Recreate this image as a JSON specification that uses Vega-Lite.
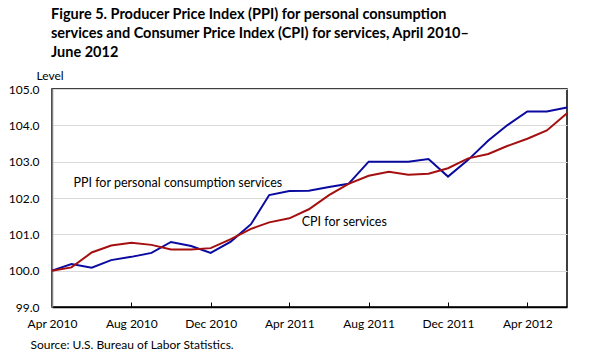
{
  "$schema": "https://vega.github.io/schema/vega-lite/v6.json",
  "width": 515,
  "height": 218,
  "autosize": {"type": "none"},
  "padding": {"left": 52, "top": 89, "right": 39, "bottom": 57},
  "background": "white",
  "config": {
    "view": {"stroke": "black", "strokeWidth": 1.5},
    "font": "Lato"
  },
  "title": {
    "text": ["Figure 5. Producer Price Index (PPI) for personal consumption", "services and Consumer Price Index (CPI) for services, April 2010–", "June 2012"],
    "anchor": "start",
    "frame": "group",
    "font": "Lato",
    "fontSize": 14.5,
    "fontWeight": "bold",
    "color": "black",
    "lineHeight": 19,
    "offset": 9,
    "dx": -1
  },
  "datasets": {
    "series": [
      {"date": "2010-04-01", "series": "PPI", "value": 100.0},
      {"date": "2010-05-01", "series": "PPI", "value": 100.18},
      {"date": "2010-06-01", "series": "PPI", "value": 100.08},
      {"date": "2010-07-01", "series": "PPI", "value": 100.29},
      {"date": "2010-08-01", "series": "PPI", "value": 100.38},
      {"date": "2010-09-01", "series": "PPI", "value": 100.49},
      {"date": "2010-10-01", "series": "PPI", "value": 100.79},
      {"date": "2010-11-01", "series": "PPI", "value": 100.68},
      {"date": "2010-12-01", "series": "PPI", "value": 100.49},
      {"date": "2011-01-01", "series": "PPI", "value": 100.8},
      {"date": "2011-02-01", "series": "PPI", "value": 101.28},
      {"date": "2011-03-01", "series": "PPI", "value": 102.08},
      {"date": "2011-04-01", "series": "PPI", "value": 102.19},
      {"date": "2011-05-01", "series": "PPI", "value": 102.2},
      {"date": "2011-06-01", "series": "PPI", "value": 102.3},
      {"date": "2011-07-01", "series": "PPI", "value": 102.39},
      {"date": "2011-08-01", "series": "PPI", "value": 103.0},
      {"date": "2011-09-01", "series": "PPI", "value": 103.0},
      {"date": "2011-10-01", "series": "PPI", "value": 103.0},
      {"date": "2011-11-01", "series": "PPI", "value": 103.07},
      {"date": "2011-12-01", "series": "PPI", "value": 102.59},
      {"date": "2012-01-01", "series": "PPI", "value": 103.05},
      {"date": "2012-02-01", "series": "PPI", "value": 103.58},
      {"date": "2012-03-01", "series": "PPI", "value": 104.0},
      {"date": "2012-04-01", "series": "PPI", "value": 104.38},
      {"date": "2012-05-01", "series": "PPI", "value": 104.38},
      {"date": "2012-06-01", "series": "PPI", "value": 104.49},
      {"date": "2010-04-01", "series": "CPI", "value": 100.0},
      {"date": "2010-05-01", "series": "CPI", "value": 100.09},
      {"date": "2010-06-01", "series": "CPI", "value": 100.5},
      {"date": "2010-07-01", "series": "CPI", "value": 100.69},
      {"date": "2010-08-01", "series": "CPI", "value": 100.77},
      {"date": "2010-09-01", "series": "CPI", "value": 100.71},
      {"date": "2010-10-01", "series": "CPI", "value": 100.58},
      {"date": "2010-11-01", "series": "CPI", "value": 100.58},
      {"date": "2010-12-01", "series": "CPI", "value": 100.62},
      {"date": "2011-01-01", "series": "CPI", "value": 100.87},
      {"date": "2011-02-01", "series": "CPI", "value": 101.15},
      {"date": "2011-03-01", "series": "CPI", "value": 101.33},
      {"date": "2011-04-01", "series": "CPI", "value": 101.44},
      {"date": "2011-05-01", "series": "CPI", "value": 101.69},
      {"date": "2011-06-01", "series": "CPI", "value": 102.08},
      {"date": "2011-07-01", "series": "CPI", "value": 102.39},
      {"date": "2011-08-01", "series": "CPI", "value": 102.61},
      {"date": "2011-09-01", "series": "CPI", "value": 102.72},
      {"date": "2011-10-01", "series": "CPI", "value": 102.64},
      {"date": "2011-11-01", "series": "CPI", "value": 102.67},
      {"date": "2011-12-01", "series": "CPI", "value": 102.82},
      {"date": "2012-01-01", "series": "CPI", "value": 103.09},
      {"date": "2012-02-01", "series": "CPI", "value": 103.21},
      {"date": "2012-03-01", "series": "CPI", "value": 103.43},
      {"date": "2012-04-01", "series": "CPI", "value": 103.63},
      {"date": "2012-05-01", "series": "CPI", "value": 103.86},
      {"date": "2012-06-01", "series": "CPI", "value": 104.33}
    ],
    "labels": [
      {"date": "2010-05-04", "value": 102.41, "label": "PPI for personal consumption services"},
      {"date": "2011-04-20", "value": 101.34, "label": "CPI for services"}
    ]
  },
  "layer": [
    {
      "data": {"name": "series"},
      "mark": {"type": "line", "strokeWidth": 2},
      "encoding": {
        "x": {
          "field": "date",
          "type": "temporal",
          "scale": {"type": "utc", "domain": [{"year": 2010, "month": 4, "date": 1, "utc": true}, {"year": 2012, "month": 6, "date": 1, "utc": true}]},
          "axis": {
            "values": [
              {"year": 2010, "month": 4, "date": 1, "utc": true},
              {"year": 2010, "month": 8, "date": 1, "utc": true},
              {"year": 2010, "month": 12, "date": 1, "utc": true},
              {"year": 2011, "month": 4, "date": 1, "utc": true},
              {"year": 2011, "month": 8, "date": 1, "utc": true},
              {"year": 2011, "month": 12, "date": 1, "utc": true},
              {"year": 2012, "month": 4, "date": 1, "utc": true}
            ],
            "tickCount": 20,
            "format": "%b %Y",
            "grid": false,
            "domainColor": "black",
            "domainWidth": 1.5,
            "tickColor": "black",
            "tickSize": -5,
            "tickWidth": 1,
            "labelPadding": 16,
            "labelFont": "Lato",
            "labelFontSize": 12,
            "labelColor": "black",
            "labelFlush": false,
            "labelOverlap": false,
            "title": "Source: U.S. Bureau of Labor Statistics.",
            "titleFont": "Lato",
            "titleFontSize": 12,
            "titleFontWeight": "normal",
            "titleColor": "black",
            "titleAnchor": "start",
            "titleAlign": "left",
            "titleBaseline": "alphabetic",
            "titleX": -22,
            "titleY": 41
          }
        },
        "y": {
          "field": "value",
          "type": "quantitative",
          "scale": {"domain": [99, 105], "nice": false, "zero": false},
          "axis": {
            "values": [99, 100, 101, 102, 103, 104, 105],
            "tickCount": 10,
            "format": ".1f",
            "grid": true,
            "gridColor": "#d9d9d9",
            "gridWidth": 1,
            "ticks": false,
            "domainColor": "#808080",
            "domainWidth": 1.5,
            "labelPadding": 13,
            "labelFont": "Lato",
            "labelFontSize": 12,
            "labelColor": "black",
            "labelBaseline": "middle",
            "labelOverlap": false,
            "labelFlush": false,
            "title": "Level",
            "titleFont": "Lato",
            "titleFontSize": 12,
            "titleFontWeight": "normal",
            "titleColor": "black",
            "titleAngle": 0,
            "titleAlign": "left",
            "titleBaseline": "alphabetic",
            "titleX": -16,
            "titleY": -10
          }
        },
        "color": {
          "field": "series",
          "type": "nominal",
          "scale": {"domain": ["PPI", "CPI"], "range": ["#0a0aa0", "#a50f0f"]},
          "legend": null
        }
      }
    },
    {
      "data": {"name": "labels"},
      "mark": {"type": "text", "align": "left", "baseline": "middle", "font": "Lato", "fontSize": 12.5, "color": "black"},
      "encoding": {
        "x": {"field": "date", "type": "temporal"},
        "y": {"field": "value", "type": "quantitative"},
        "text": {"field": "label"}
      }
    }
  ]
}
